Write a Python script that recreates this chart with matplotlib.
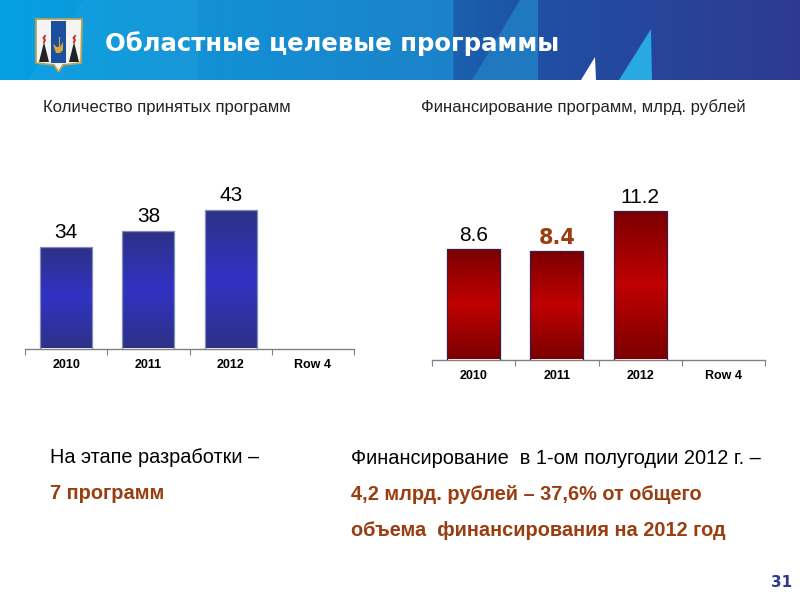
import numpy as np
import matplotlib
matplotlib.use("Agg")
import matplotlib.pyplot as plt
from matplotlib.colors import LinearSegmentedColormap
from matplotlib.patches import Polygon, Rectangle

plt.rcParams['font.family'] = ['Liberation Sans', 'DejaVu Sans']

years = ['2010', '2011', '2012', 'Row 4']
programs = [34, 38, 43, None]
funding = [8.6, 8.4, 11.2, None]
funding_labels = ['8.6', '8.4', '11.2', '']

title = 'Областные целевые программы'
left_title = 'Количество принятых программ'
right_title = 'Финансирование программ, млрд. рублей'
brown = '#9a3d10'

W, H = 800, 600


def px_axes(fig, x0, x1, y_base, y_top):
    # y_base and y_top counted from the top of the image
    return fig.add_axes([x0 / W, 1 - y_base / H, (x1 - x0) / W, (y_base - y_top) / H])


def gradient_bars(ax, values, cmap, edge):
    xs = [i for i, v in enumerate(values) if v is not None]
    vals = [values[i] for i in xs]
    bars = ax.bar(xs, vals, width=0.635, bottom=0, color='none', edgecolor=edge, linewidth=0.9, zorder=3)
    grad = np.abs(np.linspace(-1, 1, 256)).reshape(-1, 1)
    for b in bars:
        im = ax.imshow(grad, cmap=cmap, vmin=0, vmax=1, aspect='auto', zorder=2,
                       extent=[b.get_x(), b.get_x() + b.get_width(), ax.get_ylim()[0], b.get_height()])
        clip = Rectangle((b.get_x(), 0), b.get_width(), b.get_height(), transform=ax.transData)
        im.set_clip_path(clip)


def style_axis(ax, ymin, ymax):
    ax.set_xlim(-0.5, 3.5)
    ax.set_ylim(ymin, ymax)
    ax.patch.set_alpha(0)
    for s in ['top', 'left', 'right']:
        ax.spines[s].set_visible(False)
    ax.spines['bottom'].set_color('#808080')
    ax.spines['bottom'].set_linewidth(1)
    ax.set_yticks([])
    ax.set_xticks([-0.5, 0.5, 1.5, 2.5, 3.5])
    ax.set_xticklabels([])
    ax.tick_params(axis='x', length=4, width=0.8, color='#808080', direction='out')
    ax.set_xticks(range(4), minor=True)
    ax.set_xticklabels(years, minor=True, fontsize=9, fontweight='bold', color='black')
    ax.tick_params(axis='x', which='minor', length=0, pad=7.5)


def txt(x, y, s, **kw):
    # x and baseline y in image pixels
    fig.text(x / W, 1 - y / H, s, va='baseline', **kw)


fig = plt.figure(figsize=(8, 6), dpi=100)
fig.patch.set_facecolor('white')

# header background, everything in image pixels
bg = fig.add_axes([0, 0, 1, 1])
bg.set_xlim(0, W)
bg.set_ylim(H, 0)
bg.axis('off')
head = LinearSegmentedColormap.from_list('head', [
    (0, '#05a0e2'), (198 / W, '#1291d6'), (453 / W, '#1c82c9'),
    (454 / W, '#1a60ae'), (538 / W, '#204fa4'), (1, '#2e3a8f')], N=800)
bg.imshow(np.linspace(0, 1, 800).reshape(1, -1), cmap=head, aspect='auto', extent=[0, W, 80, 0], zorder=1)
bg.set_xlim(0, W)
bg.set_ylim(H, 0)
bg.add_patch(Polygon([[83, 0], [198, 0], [198, 80], [28, 80]], color='#3ab4e6', alpha=0.15, lw=0, zorder=2))
bg.add_patch(Polygon([[520, 0], [538, 0], [538, 80], [472, 80]], color='#2078c0', lw=0, zorder=2))
bg.add_patch(Polygon([[581, 80], [595, 57], [596, 80]], color='white', lw=0, zorder=3))
bg.add_patch(Polygon([[619, 80], [651, 29], [652, 80]], color='#29a9e1', lw=0, zorder=3))

# emblem
bg.add_patch(Polygon([[36, 19], [82, 19], [81, 63], [63, 65], [58.5, 72], [54, 65], [36, 63]],
                     facecolor='#f4f4f4', edgecolor='#b9a15a', lw=1.3, zorder=4))
bg.add_patch(Polygon([[51, 21], [66, 21], [66, 63], [51, 63]], color='#1d4fa0', lw=0, zorder=5))
bg.add_patch(Polygon([[39, 62], [44, 42], [49, 62]], color='#222222', lw=0, zorder=5))
bg.add_patch(Polygon([[69, 62], [74, 42], [79, 62]], color='#222222', lw=0, zorder=5))
bg.add_patch(Polygon([[53, 44], [57, 47], [60, 47], [63, 42], [63, 50], [60, 53], [56, 53]],
                     color='#d8a838', lw=0, zorder=6))
bg.plot([59, 59], [37, 47], color='#d8a838', lw=0.8, zorder=6)
bg.plot([44, 45, 43.5, 45], [42, 40, 38, 36], color='#c83020', lw=1.4, zorder=6)
bg.plot([74, 75, 73.5, 75], [42, 40, 38, 36], color='#c83020', lw=1.4, zorder=6)

txt(105, 51, title, fontsize=17.6, fontweight='bold', color='white', family=['DejaVu Sans'])
txt(43, 112, left_title, fontsize=12, color='#222222')
txt(421, 112, right_title, fontsize=12, color='#222222')

# left chart
blue = LinearSegmentedColormap.from_list('blue', ['#3232c4', '#2d3185'])
ax1 = px_axes(fig, 25, 354, 348.5, 170)
style_axis(ax1, 10, 10 + 178.5 / 4.21)
gradient_bars(ax1, programs, blue, '#7f8fb5')
style_axis(ax1, 10, 10 + 178.5 / 4.21)
for i, v in enumerate(programs):
    if v is not None:
        ax1.annotate(str(v), (i, v), xytext=(0, 3.6), textcoords='offset points', ha='center',
                     va='bottom', fontsize=15, color='black')

# right chart
red = LinearSegmentedColormap.from_list('red', ['#c00000', '#7a0000'])
ax2 = px_axes(fig, 432, 765, 359.5, 170)
style_axis(ax2, 1, 1 + 189.5 / 14.6)
gradient_bars(ax2, funding, red, '#3a1a50')
style_axis(ax2, 1, 1 + 189.5 / 14.6)
for i, v in enumerate(funding):
    if v is None:
        continue
    if i == 1:
        ax2.annotate(funding_labels[i], (i, v), xytext=(0, 2.5), textcoords='offset points', ha='center',
                     va='bottom', fontsize=15, color=brown, fontweight='bold', family=['DejaVu Sans'])
    else:
        ax2.annotate(funding_labels[i], (i, v), xytext=(0, 2.5), textcoords='offset points', ha='center',
                     va='bottom', fontsize=15, color='black')

# text under the charts
txt(50, 463, 'На этапе разработки –', fontsize=14.3, color='black')
txt(50, 499, '7 программ', fontsize=14.4, color=brown, fontweight='bold')
txt(351, 463.5, 'Финансирование  в 1-ом полугодии 2012 г. –', fontsize=14.4, color='black')
txt(351, 500, '4,2 млрд. рублей – 37,6% от общего', fontsize=14.4, color=brown, fontweight='bold')
txt(351, 536, 'объема  финансирования на 2012 год', fontsize=14.4, color=brown, fontweight='bold')
txt(771, 587, '31', fontsize=11, color='#2e3a8f', fontweight='bold', family=['DejaVu Sans'])

fig.savefig('out.png', dpi=100)
